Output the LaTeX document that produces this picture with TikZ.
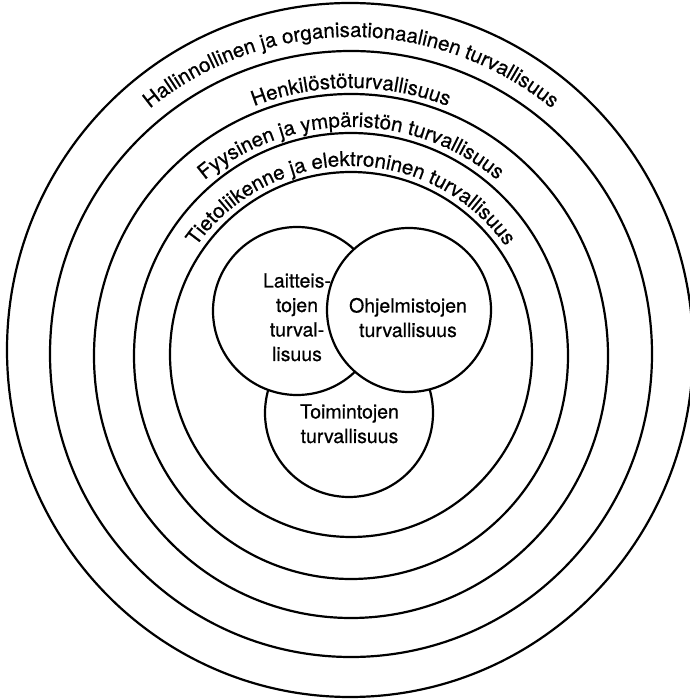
\documentclass[tikz,border=0pt]{standalone}
\usepackage{fontspec}
\setmainfont[FakeBold=0.6]{TeX Gyre Heros}
\usetikzlibrary{decorations.text,shapes.geometric}
\newcommand\ringfont{\fontsize{20.5}{24.5}\selectfont}
\newcommand\vennfont{\fontsize{19.5}{24.5}\selectfont}
\begin{document}
\begin{tikzpicture}[x=1pt,y=1pt,
  ring/.style={draw, ellipse, line width=2.2pt, inner sep=0pt, outer sep=0pt},
  venn/.style={draw, circle, line width=2.2pt, fill=white, inner sep=0pt, minimum size=#1},
  lbl/.style={font=\vennfont, align=center, anchor=base, inner sep=0pt},
  arclbl/.style={decorate, decoration={text along path, text align=center, text={|\ringfont|#1}}}]
\useasboundingbox (0,0) rectangle (689,699);
\fill[white] (0,0) rectangle (689,699);
% concentric rings
\node[ring, minimum width=686, minimum height=694] (r1) at (350,349) {};
\node[ring, minimum width=602, minimum height=606] (r2) at (351,345) {};
\node[ring, minimum width=514, minimum height=524] (r3) at (351,343) {};
\node[ring, minimum width=434, minimum height=446] (r4) at (351,343) {};
\node[ring, minimum width=362, minimum height=365] (r5) at (351,344.5) {};
% ring labels
\coordinate (c) at (351,344);
\path[arclbl={Hallinnollinen ja organisationaalinen turvallisuus}] ([shift={(160:318)}]c) arc (160:20:318);
\path[arclbl={Henkilöstöturvallisuus}] ([shift={(160:267)}]c) arc (160:20:267);
\path[arclbl={Fyysinen ja ympäristön turvallisuus}] ([shift={(160:228)}]c) arc (160:20:228);
\path[arclbl={Tietoliikenne ja elektroninen turvallisuus}] ([shift={(165:189)}]c) arc (165:15:189);
% Venn circles
\node[venn=168] (toim) at (349,286) {};
\node[venn=168] (lait) at (297,388) {};
\node[venn=164] (ohj) at (409,389) {};
% Venn texts (anchor = baseline of the last line)
\node[lbl] (tlait) at (297,338) {Laitteis-\\tojen\\turval-\\lisuus};
\node[lbl] (tohj) at (408,362) {Ohjelmistojen\\turvallisuus};
\node[lbl] (ttoim) at (349.5,256) {Toimintojen\\turvallisuus};
\end{tikzpicture}
\end{document}
